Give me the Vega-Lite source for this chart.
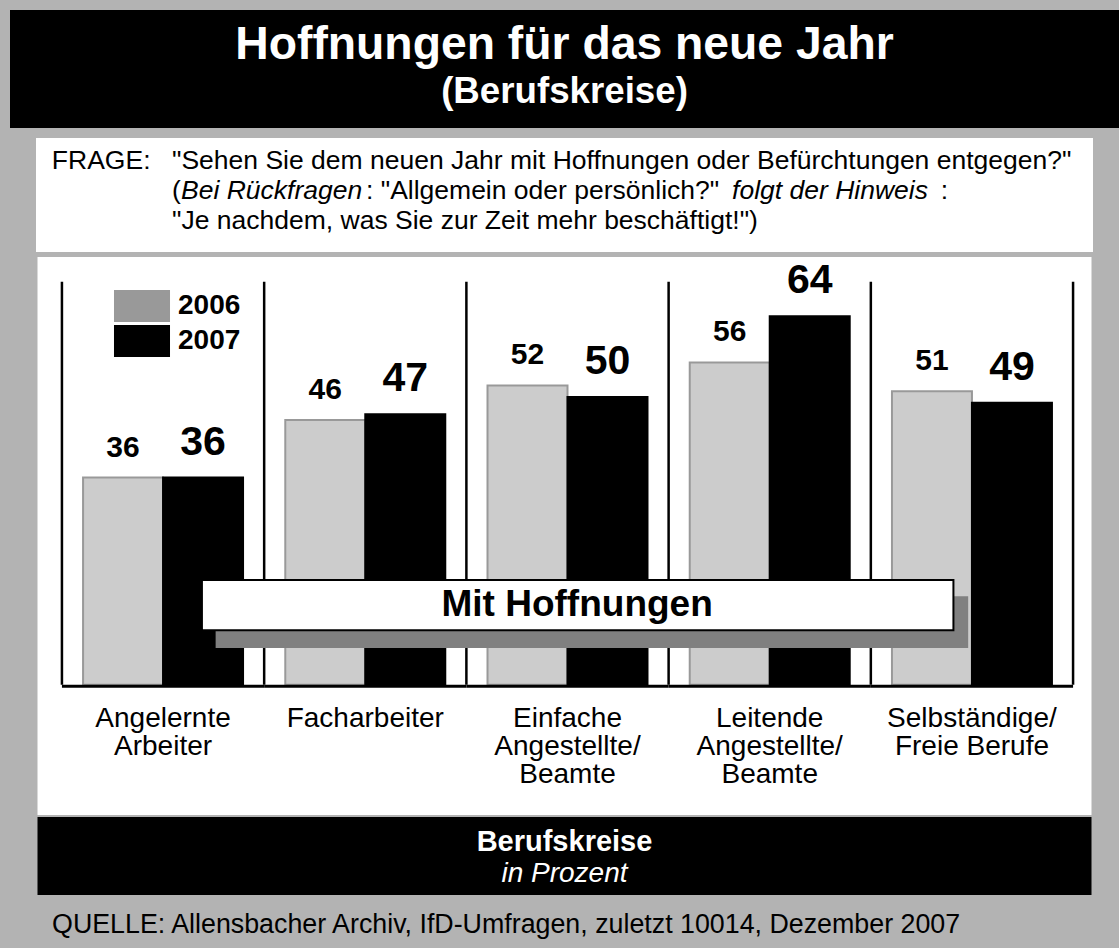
{
  "$schema": "https://vega.github.io/schema/vega-lite/v6.json",
  "background": "#b3b3b3",
  "padding": {"left": 10, "top": 10, "right": 0, "bottom": 0},
  "config": {"font": "Liberation Sans", "view": {"stroke": null}},
  "datasets": {
    "werte": [
      {"beruf": "Angelernte\nArbeiter", "jahr": "2006", "wert": 36},
      {"beruf": "Angelernte\nArbeiter", "jahr": "2007", "wert": 36},
      {"beruf": "Facharbeiter", "jahr": "2006", "wert": 46},
      {"beruf": "Facharbeiter", "jahr": "2007", "wert": 47},
      {"beruf": "Einfache\nAngestellte/\nBeamte", "jahr": "2006", "wert": 52},
      {"beruf": "Einfache\nAngestellte/\nBeamte", "jahr": "2007", "wert": 50},
      {"beruf": "Leitende\nAngestellte/\nBeamte", "jahr": "2006", "wert": 56},
      {"beruf": "Leitende\nAngestellte/\nBeamte", "jahr": "2007", "wert": 64},
      {"beruf": "Selbständige/\nFreie Berufe", "jahr": "2006", "wert": 51},
      {"beruf": "Selbständige/\nFreie Berufe", "jahr": "2007", "wert": 49}
    ]
  },
  "spacing": 10,
  "center": true,
  "resolve": {"scale": {"color": "independent", "fill": "independent", "stroke": "independent"}, "legend": {"color": "independent", "fill": "independent", "stroke": "independent"}},
  "vconcat": [
    {
      "width": 1109,
      "height": 118,
      "view": {"fill": "#000000"},
      "layer": [
        {
          "data": {"values": [{"t": "Hoffnungen für das neue Jahr"}]},
          "mark": {"type": "text", "fontSize": 46.3, "fontWeight": "bold", "color": "#ffffff", "baseline": "alphabetic"},
          "encoding": {
            "text": {"field": "t"},
            "y": {"datum": 41.5, "type": "quantitative", "scale": {"domain": [0, 100], "reverse": true}, "axis": null}
          }
        },
        {
          "data": {"values": [{"t": "(Berufskreise)"}]},
          "mark": {"type": "text", "fontSize": 36.7, "fontWeight": "bold", "color": "#ffffff", "baseline": "alphabetic"},
          "encoding": {
            "text": {"field": "t"},
            "y": {"datum": 79, "type": "quantitative", "scale": {"domain": [0, 100], "reverse": true}, "axis": null}
          }
        }
      ]
    },
    {
      "spacing": 5,
      "center": true,
      "resolve": {"scale": {"color": "independent", "fill": "independent", "stroke": "independent"}, "legend": {"color": "independent", "fill": "independent", "stroke": "independent"}},
      "vconcat": [
        {
          "width": 1057,
          "height": 114,
          "view": {"fill": "#ffffff"},
          "data": {"values": [
            {"teil": "a", "t": "FRAGE:"},
            {"teil": "b", "t": "\"Sehen Sie dem neuen Jahr mit Hoffnungen oder Befürchtungen entgegen?\""},
            {"teil": "c", "t": "("},
            {"teil": "d", "t": "Bei Rückfragen"},
            {"teil": "e", "t": ": \"Allgemein oder persönlich?\""},
            {"teil": "f", "t": "folgt der Hinweis"},
            {"teil": "g", "t": ":"},
            {"teil": "h", "t": "\"Je nachdem, was Sie zur Zeit mehr beschäftigt!\")"}
          ]},
          "layer": [
            {
              "transform": [{"filter": "datum.teil == 'a'"}],
              "mark": {"type": "text", "fontSize": 26.5, "align": "left", "baseline": "alphabetic", "color": "#000000"},
              "encoding": {
                "text": {"field": "t"},
                "x": {"datum": 1.5, "type": "quantitative", "scale": {"domain": [0, 100]}, "axis": null},
                "y": {"datum": 27.5, "type": "quantitative", "scale": {"domain": [0, 100], "reverse": true}, "axis": null}
              }
            },
            {
              "transform": [{"filter": "datum.teil == 'b'"}],
              "mark": {"type": "text", "fontSize": 26.5, "align": "left", "baseline": "alphabetic", "color": "#000000"},
              "encoding": {
                "text": {"field": "t"},
                "x": {"datum": 12.87, "type": "quantitative", "scale": {"domain": [0, 100]}, "axis": null},
                "y": {"datum": 27.5, "type": "quantitative", "scale": {"domain": [0, 100], "reverse": true}, "axis": null}
              }
            },
            {
              "transform": [{"filter": "datum.teil == 'c'"}],
              "mark": {"type": "text", "fontSize": 26.5, "align": "left", "baseline": "alphabetic", "color": "#000000"},
              "encoding": {
                "text": {"field": "t"},
                "x": {"datum": 12.87, "type": "quantitative", "scale": {"domain": [0, 100]}, "axis": null},
                "y": {"datum": 53.5, "type": "quantitative", "scale": {"domain": [0, 100], "reverse": true}, "axis": null}
              }
            },
            {
              "transform": [{"filter": "datum.teil == 'd'"}],
              "mark": {"type": "text", "fontSize": 26.5, "fontStyle": "italic", "align": "left", "baseline": "alphabetic", "color": "#000000"},
              "encoding": {
                "text": {"field": "t"},
                "x": {"datum": 13.72, "type": "quantitative", "scale": {"domain": [0, 100]}, "axis": null},
                "y": {"datum": 53.5, "type": "quantitative", "scale": {"domain": [0, 100], "reverse": true}, "axis": null}
              }
            },
            {
              "transform": [{"filter": "datum.teil == 'e'"}],
              "mark": {"type": "text", "fontSize": 26.5, "align": "left", "baseline": "alphabetic", "color": "#000000"},
              "encoding": {
                "text": {"field": "t"},
                "x": {"datum": 31.22, "type": "quantitative", "scale": {"domain": [0, 100]}, "axis": null},
                "y": {"datum": 53.5, "type": "quantitative", "scale": {"domain": [0, 100], "reverse": true}, "axis": null}
              }
            },
            {
              "transform": [{"filter": "datum.teil == 'f'"}],
              "mark": {"type": "text", "fontSize": 26.5, "fontStyle": "italic", "align": "left", "baseline": "alphabetic", "color": "#000000"},
              "encoding": {
                "text": {"field": "t"},
                "x": {"datum": 65.85, "type": "quantitative", "scale": {"domain": [0, 100]}, "axis": null},
                "y": {"datum": 53.5, "type": "quantitative", "scale": {"domain": [0, 100], "reverse": true}, "axis": null}
              }
            },
            {
              "transform": [{"filter": "datum.teil == 'g'"}],
              "mark": {"type": "text", "fontSize": 26.5, "align": "left", "baseline": "alphabetic", "color": "#000000"},
              "encoding": {
                "text": {"field": "t"},
                "x": {"datum": 85.6, "type": "quantitative", "scale": {"domain": [0, 100]}, "axis": null},
                "y": {"datum": 53.5, "type": "quantitative", "scale": {"domain": [0, 100], "reverse": true}, "axis": null}
              }
            },
            {
              "transform": [{"filter": "datum.teil == 'h'"}],
              "mark": {"type": "text", "fontSize": 26.5, "align": "left", "baseline": "alphabetic", "color": "#000000"},
              "encoding": {
                "text": {"field": "t"},
                "x": {"datum": 12.87, "type": "quantitative", "scale": {"domain": [0, 100]}, "axis": null},
                "y": {"datum": 79.5, "type": "quantitative", "scale": {"domain": [0, 100], "reverse": true}, "axis": null}
              }
            }
          ]
        },
        {
          "spacing": 2,
          "center": true,
          "resolve": {"scale": {"color": "independent", "fill": "independent", "stroke": "independent"}, "legend": {"color": "independent", "fill": "independent", "stroke": "independent"}},
          "vconcat": [
            {
              "width": 1054,
              "height": 558,
              "view": {"fill": "#ffffff"},
              "resolve": {"scale": {"x": "independent"}},
              "layer": [
                {
                  "data": {"name": "werte"},
                  "encoding": {
                    "x": {"field": "beruf", "type": "nominal", "sort": null, "scale": {"paddingInner": 0, "paddingOuter": 0.106, "align": 0.57}, "axis": null}
                  },
                  "layer": [
                    {
                      "mark": {"type": "square", "opacity": 0},
                      "encoding": {
                        "xOffset": {"field": "jahr", "type": "nominal", "scale": {"domain": ["2006", "2007"], "paddingInner": 0, "paddingOuter": 0.264}},
                        "y": {"field": "wert", "type": "quantitative", "scale": {"domain": [-22.6, 74.3], "nice": false, "zero": false}, "axis": null},
                        "color": {
                          "field": "jahr", "type": "nominal",
                          "scale": {"domain": ["2006", "2007"], "range": ["#999999", "#000000"]},
                          "legend": {
                            "title": null, "orient": "none", "legendX": 86.5, "legendY": 31, "direction": "vertical",
                            "symbolType": "M-1.556,-0.889H1.556V0.889H-1.556Z", "symbolSize": 1296, "symbolStrokeWidth": 0, "symbolOpacity": 1,
                            "labelFontSize": 28, "labelFontWeight": "bold", "labelColor": "#000000", "labelOffset": 18,
                            "rowPadding": 0, "padding": 0
                          }
                        }
                      }
                    },
                    {
                      "mark": {"type": "bar", "strokeWidth": 2},
                      "encoding": {
                        "xOffset": {"field": "jahr", "type": "nominal", "scale": {"domain": ["2006", "2007"], "paddingInner": 0, "paddingOuter": 0.264}},
                        "y": {"field": "wert", "type": "quantitative"},
                        "fill": {"field": "jahr", "type": "nominal", "scale": {"range": ["#cccccc", "#000000"]}, "legend": null},
                        "stroke": {"field": "jahr", "type": "nominal", "scale": {"range": ["#999999", "#000000"]}, "legend": null}
                      }
                    },
                    {
                      "transform": [{"filter": "datum.jahr == '2006'"}],
                      "mark": {"type": "text", "fontSize": 30, "fontWeight": "bold", "baseline": "alphabetic", "dy": -21, "color": "#000000"},
                      "encoding": {
                        "xOffset": {"field": "jahr", "type": "nominal", "scale": {"domain": ["2006", "2007"], "paddingInner": 0, "paddingOuter": 0.264}},
                        "y": {"field": "wert", "type": "quantitative"},
                        "text": {"field": "wert", "type": "quantitative"}
                      }
                    },
                    {
                      "transform": [{"filter": "datum.jahr == '2007'"}],
                      "mark": {"type": "text", "fontSize": 41, "fontWeight": "bold", "baseline": "alphabetic", "dy": -23, "color": "#000000"},
                      "encoding": {
                        "xOffset": {"field": "jahr", "type": "nominal", "scale": {"domain": ["2006", "2007"], "paddingInner": 0, "paddingOuter": 0.264}},
                        "y": {"field": "wert", "type": "quantitative"},
                        "text": {"field": "wert", "type": "quantitative"}
                      }
                    },
                    {
                      "transform": [{"filter": "datum.jahr == '2006'"}],
                      "mark": {"type": "rule", "strokeWidth": 2.5, "color": "#000000"},
                      "encoding": {
                        "x": {"field": "beruf", "type": "nominal", "sort": null, "bandPosition": 0},
                        "y": {"datum": 0},
                        "y2": {"datum": 70}
                      }
                    },
                    {
                      "transform": [{"filter": "datum.jahr == '2006' && indexof(datum.beruf, 'Selbst') == 0"}],
                      "mark": {"type": "rule", "strokeWidth": 2.5, "color": "#000000"},
                      "encoding": {
                        "x": {"field": "beruf", "type": "nominal", "sort": null, "bandPosition": 1},
                        "y": {"datum": 0},
                        "y2": {"datum": 70}
                      }
                    },
                    {
                      "transform": [{"filter": "datum.jahr == '2006'"}],
                      "mark": {"type": "rect", "color": "#000000"},
                      "encoding": {
                        "y": {"datum": 0},
                        "y2": {"datum": -0.5}
                      }
                    },
                    {
                      "transform": [{"filter": "datum.jahr == '2006'"}],
                      "mark": {"type": "text", "fontSize": 28, "baseline": "top", "lineBreak": "\n", "lineHeight": 28, "color": "#000000"},
                      "encoding": {
                        "y": {"datum": -3.5},
                        "text": {"field": "beruf"}
                      }
                    }
                  ]
                },
                {
                  "data": {"values": [{"t": "Mit Hoffnungen"}]},
                  "layer": [
                    {
                      "mark": {"type": "rect", "color": "#808080"},
                      "encoding": {
                        "x": {"datum": 16.9, "type": "quantitative", "scale": {"domain": [0, 100]}, "axis": null},
                        "x2": {"datum": 88.3},
                        "y": {"datum": 15.4, "type": "quantitative"},
                        "y2": {"datum": 6.4}
                      }
                    },
                    {
                      "mark": {"type": "rect", "fill": "#ffffff", "stroke": "#000000", "strokeWidth": 2},
                      "encoding": {
                        "x": {"datum": 15.6, "type": "quantitative", "scale": {"domain": [0, 100]}, "axis": null},
                        "x2": {"datum": 86.9},
                        "y": {"datum": 18.2, "type": "quantitative"},
                        "y2": {"datum": 9.5}
                      }
                    },
                    {
                      "mark": {"type": "text", "fontSize": 37, "fontWeight": "bold", "baseline": "middle", "color": "#000000"},
                      "encoding": {
                        "x": {"datum": 51.2, "type": "quantitative", "scale": {"domain": [0, 100]}, "axis": null},
                        "y": {"datum": 13.9, "type": "quantitative"},
                        "text": {"field": "t"}
                      }
                    }
                  ]
                }
              ]
            },
            {
              "width": 1054,
              "height": 78,
              "view": {"fill": "#000000"},
              "data": {"values": [{"a": "Berufskreise", "b": "in Prozent"}]},
              "layer": [
                {
                  "mark": {"type": "text", "fontSize": 29, "fontWeight": "bold", "color": "#ffffff", "baseline": "alphabetic"},
                  "encoding": {
                    "text": {"field": "a"},
                    "y": {"datum": 43.5, "type": "quantitative", "scale": {"domain": [0, 100], "reverse": true}, "axis": null}
                  }
                },
                {
                  "mark": {"type": "text", "fontSize": 28, "fontStyle": "italic", "color": "#ffffff", "baseline": "alphabetic"},
                  "encoding": {
                    "text": {"field": "b"},
                    "y": {"datum": 83, "type": "quantitative", "scale": {"domain": [0, 100], "reverse": true}, "axis": null}
                  }
                }
              ]
            },
            {
              "width": 1054,
              "height": 51,
              "data": {"values": [{"t": "QUELLE: Allensbacher Archiv, IfD-Umfragen, zuletzt 10014, Dezember 2007"}]},
              "mark": {"type": "text", "fontSize": 26.8, "align": "left", "baseline": "alphabetic", "color": "#000000"},
              "encoding": {
                "text": {"field": "t"},
                "x": {"datum": 1.38, "type": "quantitative", "scale": {"domain": [0, 100]}, "axis": null},
                "y": {"datum": 70, "type": "quantitative", "scale": {"domain": [0, 100], "reverse": true}, "axis": null}
              }
            }
          ]
        }
      ]
    }
  ]
}
